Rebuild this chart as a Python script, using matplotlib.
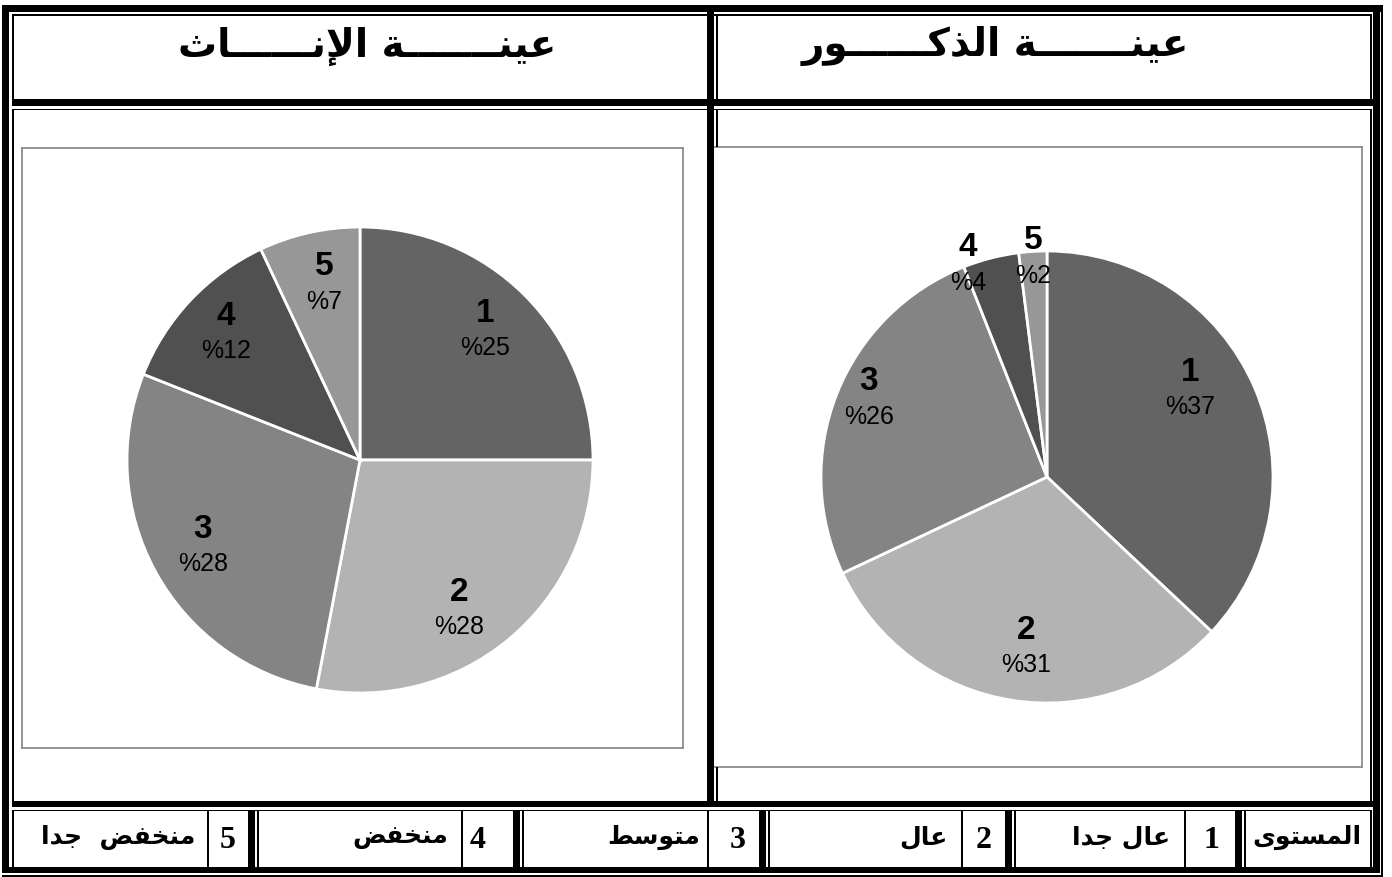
import numpy as np
import matplotlib
matplotlib.use("Agg")
import matplotlib.pyplot as plt
from matplotlib.patches import Rectangle

# level codes and shares (%) for each sample
levels = ["1", "2", "3", "4", "5"]
female_pct = [25, 28, 28, 12, 7]
male_pct = [37, 31, 26, 4, 2]

level_header = "المستوى"
level_names = ["عال جدا", "عال", "متوسط", "منخفض", "منخفض  جدا"]
female_title = "عينـــــــة الإنــــــاث"
male_title = "عينـــــــة الذكــــــور"

slice_colors = ["#646464", "#b3b3b3", "#848484", "#505050", "#979797"]

# --- arabic shaping (matplotlib draws glyphs one by one, left to right) ---
_forms = {
    "ا": (0xFE8D, 2), "أ": (0xFE83, 2), "إ": (0xFE87, 2), "آ": (0xFE81, 2),
    "ب": (0xFE8F, 4), "ة": (0xFE93, 2), "ت": (0xFE95, 4), "ث": (0xFE99, 4),
    "ج": (0xFE9D, 4), "ح": (0xFEA1, 4), "خ": (0xFEA5, 4), "د": (0xFEA9, 2),
    "ذ": (0xFEAB, 2), "ر": (0xFEAD, 2), "ز": (0xFEAF, 2), "س": (0xFEB1, 4),
    "ش": (0xFEB5, 4), "ص": (0xFEB9, 4), "ض": (0xFEBD, 4), "ط": (0xFEC1, 4),
    "ظ": (0xFEC5, 4), "ع": (0xFEC9, 4), "غ": (0xFECD, 4), "ف": (0xFED1, 4),
    "ق": (0xFED5, 4), "ك": (0xFED9, 4), "ل": (0xFEDD, 4), "م": (0xFEE1, 4),
    "ن": (0xFEE5, 4), "ه": (0xFEE9, 4), "و": (0xFEED, 2), "ى": (0xFEEF, 2),
    "ي": (0xFEF1, 4),
}
_lam_alef = {"ا": 0xFEFB, "أ": 0xFEF7, "إ": 0xFEF9, "آ": 0xFEF5}
TATWEEL = "ـ"


def shape(text):
    items = []
    i = 0
    while i < len(text):
        c = text[i]
        if c == "ل" and i + 1 < len(text) and text[i + 1] in _lam_alef:
            items.append(("LA", text[i + 1]))
            i += 2
        else:
            items.append((c, None))
            i += 1

    def joins_next(it):
        return it[0] == TATWEEL or (it[0] in _forms and _forms[it[0]][1] == 4)

    def joins_prev(it):
        return it[0] in (TATWEEL, "LA") or it[0] in _forms

    out = []
    for k, it in enumerate(items):
        c, extra = it
        p = k > 0 and joins_next(items[k - 1]) and joins_prev(it)
        n = k + 1 < len(items) and joins_next(it) and joins_prev(items[k + 1])
        if c == "LA":
            base = _lam_alef[extra]
            out.append(chr(base + 1 if p else base))
        elif c in _forms:
            base = _forms[c][0]
            if p and n:
                out.append(chr(base + 3))
            elif p:
                out.append(chr(base + 1))
            elif n:
                out.append(chr(base + 2))
            else:
                out.append(chr(base))
        else:
            out.append(c)
    return "".join(reversed(out))


W, H = 1392, 877
fig = plt.figure(figsize=(W / 100, H / 100), dpi=100)
fig.patch.set_facecolor("white")

arabic = dict(family=["DejaVu Sans"], weight="bold", color="black")
num_font = ["Liberation Sans", "DejaVu Sans"]


def pie_panel(frame, center, radius, values, lab_r, lab_turn):
    # frame = (x0, y0, x1, y1) in pixels from the top-left corner
    x0, y0, x1, y1 = frame
    ax = fig.add_axes([x0 / W, 1 - y1 / H, (x1 - x0) / W, (y1 - y0) / H])
    wedges, _ = ax.pie(values, colors=slice_colors, startangle=90,
                       counterclock=False,
                       wedgeprops=dict(edgecolor="white", linewidth=2))
    cx, cy = center
    ax.set_xlim(-(cx - x0) / radius, (x1 - cx) / radius)
    ax.set_ylim(-(y1 - cy) / radius, (cy - y0) / radius)
    ax.set_aspect("auto")
    ax.set_frame_on(True)
    for s in ax.spines.values():
        s.set_color("#8c8c8c")
        s.set_linewidth(1.3)
    ax.set_xticks([])
    ax.set_yticks([])
    for w, lvl, v, r, t in zip(wedges, levels, values, lab_r, lab_turn):
        mid = np.deg2rad((w.theta1 + w.theta2) / 2 + t)
        x, y = r * np.cos(mid), r * np.sin(mid)
        ax.annotate(lvl, (x, y), xytext=(0, 12.5), textcoords="offset points",
                    ha="center", va="center", fontsize=24, fontweight="bold",
                    family=num_font)
        ax.annotate(f"%{v}", (x, y), xytext=(0, -12.5), textcoords="offset points",
                    ha="center", va="center", fontsize=18, family=num_font)
    return ax


pie_panel((22, 148, 683, 748), (360, 460), 233, female_pct,
          [0.77, 0.77, 0.77, 0.79, 0.77], [1, -6, 0, 0, -1])
pie_panel((710, 147, 1362, 767), (1047, 477), 226, male_pct,
          [0.74, 0.76, 0.86, 1.0, 0.97], [8, 2, -2, 6, 0])

# table frame drawn on top, in pixel coordinates
ov = fig.add_axes([0, 0, 1, 1], zorder=10)
ov.set_xlim(0, W)
ov.set_ylim(H, 0)
ov.axis("off")
ov.patch.set_visible(False)


def box(x0, y0, x1, y1):
    ov.add_patch(Rectangle((x0, y0), x1 - x0, y1 - y0, color="black", lw=0))


# horizontal rules
box(2, 5, 1383, 12)
box(12, 14, 1372, 15.5)
box(12, 99, 1380, 106)
box(12, 108.5, 1372, 110)
box(12, 801, 1380, 807)
box(12, 809.5, 1372, 811)
box(2, 867, 1380, 873)
box(2, 875, 1383, 876.5)

# outer verticals
box(2, 5, 9, 873)
box(1373, 5, 1379.5, 873)
box(1381, 5, 1382.5, 876.5)
for ya, yb in [(15, 99), (110, 801), (811, 867)]:
    box(12, ya, 14, yb)
    box(1370, ya, 1372, yb)

# split between the two samples
box(707, 12, 714, 807)
for ya, yb in [(15, 99), (110, 147), (767, 801)]:
    box(716, ya, 718, yb)

# bottom row cell walls
for x in [207, 461, 707, 961, 1184]:
    box(x, 811, x + 2, 867)
for x in [248, 513, 759, 1005, 1235]:
    box(x, 811, x + 7, 867)
    box(x + 9, 811, x + 10.5, 867)

# headers
ov.text(367, 46, shape(female_title), ha="center", va="center", fontsize=28, **arabic)
ov.text(995, 46, shape(male_title), ha="center", va="center", fontsize=28, **arabic)

# legend row
ov.text(1362, 837, shape(level_header), ha="right", va="center", fontsize=18, **arabic)
name_right = [1170, 948, 700, 448, 195]
code_x = [1211, 984, 738, 478, 228]
for name, code, xr, xc in zip(level_names, levels, name_right, code_x):
    ov.text(xr, 837, shape(name), ha="right", va="center", fontsize=18, **arabic)
    ov.text(xc, 840, code, ha="center", va="center", fontsize=23,
            fontweight="bold", family=["Liberation Serif", "DejaVu Serif"])

fig.savefig("out.png", dpi=100)
